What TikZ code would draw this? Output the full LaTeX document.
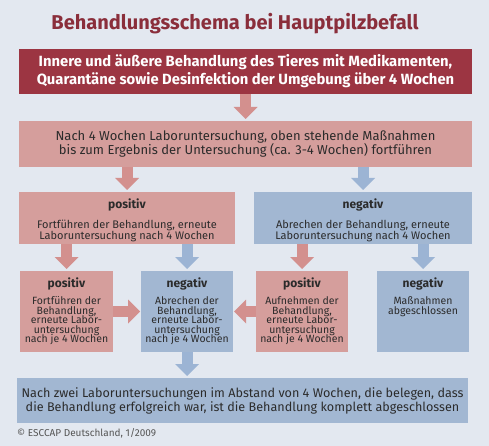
\documentclass[tikz,border=0pt]{standalone}
\usepackage{fontspec}
\setmainfont{Fira Sans}
\usetikzlibrary{arrows.meta}

\definecolor{hintergrund}{HTML}{E3E8F0}
\definecolor{titelrot}{HTML}{8A2E3B}
\definecolor{dunkelrot}{HTML}{9C3542}
\definecolor{rosa}{HTML}{D59E9C}
\definecolor{hellblau}{HTML}{A2B7D2}
\definecolor{rosapfeil}{HTML}{D3908E}
\definecolor{blaupfeilfarbe}{HTML}{9CB4D4}
\definecolor{schrift}{HTML}{2B2B2B}
\definecolor{grau}{HTML}{555555}

% Kasten mit Ueberschrift oben
\newcommand{\feld}[4]{%
  \parbox[t][#2][t]{#1}{\centering\lineskiplimit=-10pt
    \vspace*{7pt}{\bfseries\fontsize{12}{14}\selectfont #3\par}\vspace{7.5pt}#4}}

\tikzset{
  kasten/.style={anchor=north west, inner sep=0pt, outer sep=0pt, text=schrift},
  breit/.style={kasten, minimum width=453pt, minimum height=45pt, align=center},
  pfeil/.style={line width=11pt, -{Triangle[width=24pt,length=12pt,line width=0pt 0]}, shorten >=2pt},
  rotpfeil/.style={pfeil, color=rosapfeil},
  blaupfeil/.style={pfeil, color=blaupfeilfarbe},
  mittel/.style={kasten, font=\fontsize{11}{10.5}\selectfont},
  klein/.style={kasten, font=\fontsize{10.5}{9.5}\selectfont}
}

\begin{document}
\begin{tikzpicture}[x=1pt, y=-1pt]
 \useasboundingbox (0,0) rectangle (489,446);
 \fill[hintergrund] (0,0) rectangle (489,446);

 \node[text=titelrot, font=\bfseries\fontsize{20}{24}\selectfont] (titel) at (235,24) {Behandlungsschema bei Hauptpilzbefall};

 \node[breit, fill=dunkelrot, text=white, font=\bfseries\fontsize{14.8}{18}\selectfont] (behandlung) at (19,49)
   {Innere und äußere Behandlung des Tieres mit Medikamenten,\\Quarantäne sowie Desinfektion der Umgebung über 4 Wochen};
 \node[breit, fill=rosa, minimum height=46pt, font=\fontsize{13}{13.5}\selectfont] (labor) at (19,121)
   {Nach 4 Wochen Laboruntersuchung, oben stehende Maßnahmen\\bis zum Ergebnis der Untersuchung (ca. 3-4 Wochen) fortführen};

 \node[mittel, fill=rosa] (positiv) at (19,192) {\feld{216pt}{52pt}{positiv}{\vspace*{2pt}Fortführen der Behandlung, erneute\\Laboruntersuchung nach 4 Wochen}};
 \node[mittel, fill=hellblau] (negativ) at (254,192) {\feld{218pt}{52pt}{negativ}{\vspace*{2pt}Abrechen der Behandlung, erneute\\Laboruntersuchung nach 4 Wochen}};

 \node[klein, fill=rosa] (positivA) at (20,271) {\feld{93pt}{81pt}{positiv}{Fortführen der\\Behandlung,\\erneute Labor-\\untersuchung\\nach je 4 Wochen}};
 \node[klein, fill=hellblau] (negativA) at (141,271) {\feld{92pt}{81pt}{negativ}{Abrechen der\\Behandlung,\\erneute Labor-\\untersuchung\\nach je 4 Wochen}};
 \node[klein, fill=rosa] (positivB) at (256,271) {\feld{92pt}{81pt}{positiv}{Aufnehmen der\\Behandlung,\\erneute Labor-\\untersuchung\\nach je 4 Wochen}};
 \node[klein, fill=hellblau] (negativB) at (377,271) {\feld{92pt}{81pt}{negativ}{Maßnahmen\\abgeschlossen}};

 \node[breit, fill=hellblau, minimum width=451pt, font=\fontsize{12.6}{14}\selectfont] (abschluss) at (17,378)
   {Nach zwei Laboruntersuchungen im Abstand von 4 Wochen, die belegen, dass\\die Behandlung erfolgreich war, ist die Behandlung komplett abgeschlossen};

 \node[anchor=west, inner sep=0pt, text=grau, font=\fontsize{10}{12}\selectfont] (quelle) at (17,433) {© ESCCAP Deutschland, 1/2009};

 \path [rotpfeil] (behandlung) edge (labor);
 \path [rotpfeil] (labor.south -| positiv) edge (positiv);
 \path [blaupfeil] (labor.south -| negativ) edge (negativ);
 \path [rotpfeil] (positiv.south -| positivA) edge (positivA);
 \path [blaupfeil] (positiv.south -| negativA) edge (negativA);
 \path [rotpfeil] (negativ.south -| positivB) edge (positivB);
 \path [blaupfeil] (negativ.south -| negativB) edge (negativB);
 \path [rotpfeil, shorten >=1pt] (positivA) edge (negativA);
 \path [rotpfeil, shorten >=1pt] (positivB) edge (negativA);
 \path [blaupfeil] (negativA) edge (negativA |- abschluss.north);
\end{tikzpicture}
\end{document}
